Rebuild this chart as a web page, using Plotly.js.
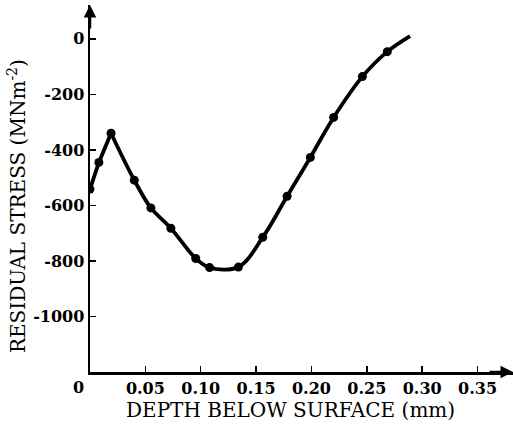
<!DOCTYPE html>
<html><head><meta charset="utf-8">
<script src="https://cdn.plot.ly/plotly-3.0.1.min.js"></script>
<style>html,body{margin:0;padding:0;background:#fff}</style>
</head><body><div id="chart" style="width:513px;height:433px"></div>
<script>
// Measured points (depth in mm, residual stress in MN m^-2)
const depth  = [0, 0.008, 0.019, 0.040, 0.055, 0.073, 0.0955, 0.108, 0.134, 0.156, 0.178, 0.199, 0.220, 0.246, 0.2685];
const stress = [-541, -445, -340, -509, -609, -682, -791, -824, -822, -715, -567, -427, -283, -136, -46];
// Curve end (no marker)
const endDepth = [0.289];
const endStress = [10];
const xTickVals = [0.05, 0.10, 0.15, 0.20, 0.25, 0.30, 0.35];
const xTickText = ['0.05', '0.10', '0.15', '0.20', '0.25', '0.30', '0.35'];
const yTickVals = [0, -200, -400, -600, -800, -1000];
const yTickText = ['0', '-200', '-400', '-600', '-800', '-1000'];
const xTitle = 'DEPTH BELOW SURFACE (mm)';
const yTitle = 'RESIDUAL STRESS (MNm<sup>-2</sup>)';

const peak = 2;
const font = 'DejaVu Serif, Liberation Serif, serif';
const traces = [
  {x: depth.slice(0, peak + 1), y: stress.slice(0, peak + 1), mode: 'lines',
   line: {color: '#000', width: 3.8}, hoverinfo: 'skip'},
  {x: depth.slice(peak).concat(endDepth), y: stress.slice(peak).concat(endStress), mode: 'lines',
   line: {color: '#000', width: 3.8, shape: 'spline', smoothing: 1}, hoverinfo: 'skip'},
  {x: depth, y: stress, mode: 'markers', marker: {color: '#000', size: 9}}
];
const layout = {
  width: 513, height: 433,
  margin: {l: 90, r: 0, t: 5, b: 61},
  paper_bgcolor: '#fff', plot_bgcolor: '#fff',
  showlegend: false,
  font: {family: font, color: '#000'},
  xaxis: {
    range: [0, 0.382], showgrid: false, zeroline: false,
    showline: true, linecolor: '#000', linewidth: 2.5,
    ticks: 'inside', ticklen: 6, tickwidth: 1.5, tickcolor: '#000',
    tickvals: xTickVals, ticktext: xTickText,
    tickfont: {family: font, size: 16, weight: 'bold'},
    automargin: false
  },
  yaxis: {
    range: [-1200, 122], showgrid: false, zeroline: false,
    showline: true, linecolor: '#000', linewidth: 2.5,
    ticks: 'inside', ticklen: 6, tickwidth: 1.5, tickcolor: '#000',
    tickvals: yTickVals, ticktext: yTickText,
    tickfont: {family: font, size: 16, weight: 'bold'},
    automargin: false
  },
  annotations: [
    {x: 0, y: 122, xref: 'x', yref: 'y', text: '', showarrow: true, arrowhead: 2,
     arrowsize: 1, arrowwidth: 2.5, arrowcolor: '#000', ax: 0, ay: 25},
    {x: 0.382, y: -1200, xref: 'x', yref: 'y', text: '', showarrow: true, arrowhead: 2,
     arrowsize: 1, arrowwidth: 2.5, arrowcolor: '#000', ax: -25, ay: 0},
    {x: 0, y: -1200, xref: 'x', yref: 'y', text: '0', showarrow: false,
     xanchor: 'right', yanchor: 'top', xshift: -4, yshift: -4,
     font: {family: font, size: 16, weight: 'bold'}},
    {x: 0.473, y: -0.1035, xref: 'paper', yref: 'paper', text: xTitle, showarrow: false,
     xanchor: 'center', yanchor: 'middle', font: {family: font, size: 20}},
    {x: -0.1726, y: 0.452, xref: 'paper', yref: 'paper', text: yTitle, showarrow: false,
     textangle: -90, xanchor: 'center', yanchor: 'middle', font: {family: font, size: 20}}
  ]
};
Plotly.newPlot('chart', traces, layout, {displayModeBar: false, staticPlot: true});
</script></body></html>
